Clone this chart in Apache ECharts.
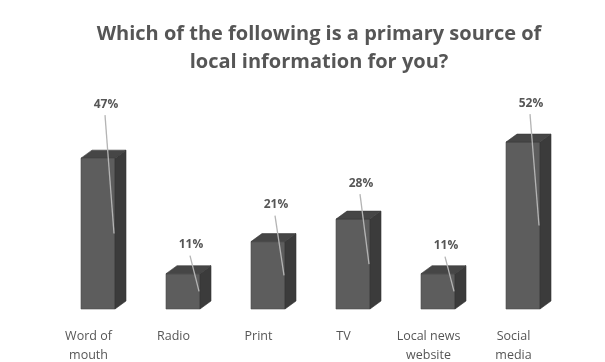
<!DOCTYPE html>
<html>
<head>
<meta charset="utf-8">
<script src="https://cdn.jsdelivr.net/npm/echarts@6/dist/echarts.min.js"></script>
<style>
  html, body { margin: 0; padding: 0; background: #ffffff; }
  #chart { width: 605px; height: 362px; }
</style>
</head>
<body>
<div id="chart"></div>
<script>
// Survey answers and their shares (percent of respondents)
const categories = ['Word of\nmouth', 'Radio', 'Print', 'TV', 'Local news\nwebsite', 'Social\nmedia'];
const shares = [47, 11, 21, 28, 11, 52];

// How far (px) each callout sits above the top of its column
const calloutRise = [54, 29, 37, 36, 28, 39];

const FONT = '"Open Sans", Lato, sans-serif';
const TEXT = '#565656';
const DEPTH_X = 11, DEPTH_Y = 8;

function renderColumn(params, api) {
  const i = api.value(0);
  const v = api.value(1);
  const top = api.coord([i, v]);
  const base = api.coord([i, 0]);
  const w = api.size([1, 0])[0] * 0.4;
  const x0 = top[0] - w / 2, x1 = top[0] + w / 2;
  const yT = top[1], yB = base[1];
  const lx = top[0] + 8;
  const ly = yT - calloutRise[params.dataIndex];
  return {
    type: 'group',
    children: [
      { type: 'rect', shape: { x: x0, y: yT, width: w, height: yB - yT },
        style: { fill: '#5d5d5d', stroke: '#4a4a4a', lineWidth: 0.6 } },
      { type: 'polygon',
        shape: { points: [[x1, yT], [x1 + DEPTH_X, yT - DEPTH_Y], [x1 + DEPTH_X, yB - DEPTH_Y], [x1, yB]] },
        style: { fill: '#3b3b3b', stroke: '#333', lineWidth: 0.6 } },
      { type: 'polygon',
        shape: { points: [[x0, yT], [x0 + DEPTH_X, yT - DEPTH_Y], [x1 + DEPTH_X, yT - DEPTH_Y], [x1, yT]] },
        style: { fill: '#464646', stroke: '#3a3a3a', lineWidth: 0.6 } },
      { type: 'line',
        shape: { x1: lx - 1, y1: ly + 11, x2: x1 - 1, y2: (yT + yB) / 2 },
        style: { stroke: '#b4b4b4', lineWidth: 1.3 } },
      { type: 'text',
        style: { x: lx, y: ly, text: v + '%', fill: TEXT, font: 'bold 12px ' + FONT,
                 align: 'center', verticalAlign: 'middle' } }
    ]
  };
}

const chart = echarts.init(document.getElementById('chart'), null, { renderer: 'canvas' });
chart.setOption({
  animation: false,
  backgroundColor: '#ffffff',
  title: {
    text: 'Which of the following is a primary source of\nlocal information for you?',
    left: 314,
    top: 15,
    textAlign: 'center',
    textStyle: { fontFamily: FONT, fontSize: 20, fontWeight: 'bold', color: TEXT, lineHeight: 28 }
  },
  grid: { left: 55.5, right: 39.5, top: 116.4, bottom: 53, containLabel: false, outerBoundsMode: 'none' },
  xAxis: {
    type: 'category',
    data: categories,
    axisLine: { show: false },
    axisTick: { show: false },
    axisLabel: {
      interval: 0,
      margin: 18,
      fontFamily: FONT,
      fontSize: 12.5,
      lineHeight: 19,
      color: TEXT,
      padding: [0, 19, 0, 0]
    }
  },
  yAxis: { type: 'value', min: 0, max: 60, show: false, splitLine: { show: false } },
  series: [{
    type: 'custom',
    renderItem: renderColumn,
    data: shares.map((s, i) => [i, s]),
    clip: false
  }]
});
</script>
</body>
</html>
